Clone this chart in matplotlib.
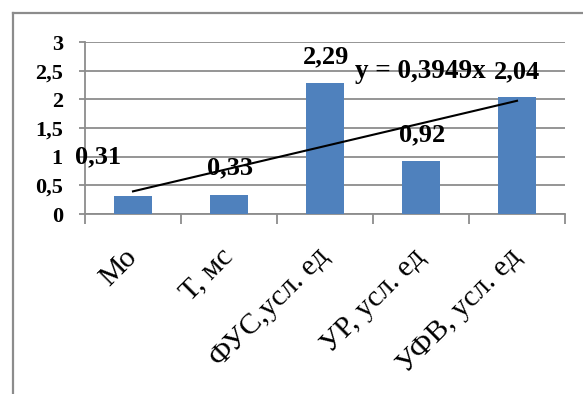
import matplotlib.pyplot as plt
import numpy as np

# Показатели и их значения
kategorii = ['Мо', 'Т, мс', 'ФУС,усл. ед', 'УР, усл. ед', 'УФВ, усл. ед']
znacheniya = [0.31, 0.33, 2.29, 0.92, 2.04]

# Положения подписей данных (сдвиги от центров столбцов)
sdvig_x = [-0.36, 0.01, 0.01, 0.01, 0.0]
podpis_y = [1.0, 0.80, 2.74, 1.38, 2.48]

plt.rcParams['font.family'] = ['Liberation Serif', 'DejaVu Serif']

fig = plt.figure(figsize=(5.83, 3.94), dpi=100)

# Рамка области диаграммы (верх и левый край)
fig.add_artist(plt.Line2D([13/583, 1], [1 - 13/394, 1 - 13/394], color='#8c8c8c', lw=1.6))
fig.add_artist(plt.Line2D([13/583, 13/583], [0, 1 - 13/394], color='#8c8c8c', lw=1.6))

ax = fig.add_axes([85/583, 180/394, 480/583, 172/394])

x = np.arange(1, len(kategorii) + 1)
ax.bar(x, znacheniya, width=0.4, color='#4f81bd', zorder=3)

# Линейный тренд через начало координат
k = np.sum(x * np.array(znacheniya)) / np.sum(x * x)
ax.plot([x[0], x[-1]], [k * x[0], k * x[-1]], color='black', lw=1.5, zorder=4)
ax.text(3.31, 2.48, 'y = ' + f'{k:.4f}'.replace('.', ',') + 'x', fontsize=19.5,
        fontweight='bold', ha='left', va='center', zorder=5)

# Подписи значений
for xi, dx, yi, v in zip(x, sdvig_x, podpis_y, znacheniya):
    ax.text(xi + dx, yi, f'{v:.2f}'.replace('.', ','), fontsize=19,
            fontweight='bold', ha='center', va='center', zorder=5)

ax.set_xlim(0.5, 5.5)
ax.set_ylim(0, 3)
ax.set_yticks(np.arange(0, 3.01, 0.5))
ax.set_yticklabels(['0', '0,5', '1', '1,5', '2', '2,5', '3'], fontsize=16, fontweight='bold')
ax.yaxis.grid(True, color='#8c8c8c', lw=1.3)
ax.set_axisbelow(True)

ax.set_xticks(x)
ax.set_xticklabels(kategorii, fontsize=21.5, rotation=45, ha='right', va='center',
                   rotation_mode='anchor')
ax.set_xticks(np.arange(0.5, 5.6, 1), minor=True)
ax.tick_params(axis='x', which='major', length=0, pad=28)
ax.tick_params(axis='x', which='minor', length=7, color='#8c8c8c', width=1.3)
ax.tick_params(axis='y', length=4.5, color='#8c8c8c', width=1.3, pad=11.5)

for s in ['top', 'right']:
    ax.spines[s].set_visible(False)
for s in ['left', 'bottom']:
    ax.spines[s].set_color('#8c8c8c')
    ax.spines[s].set_linewidth(1.3)

plt.savefig('out.png', dpi=100)
